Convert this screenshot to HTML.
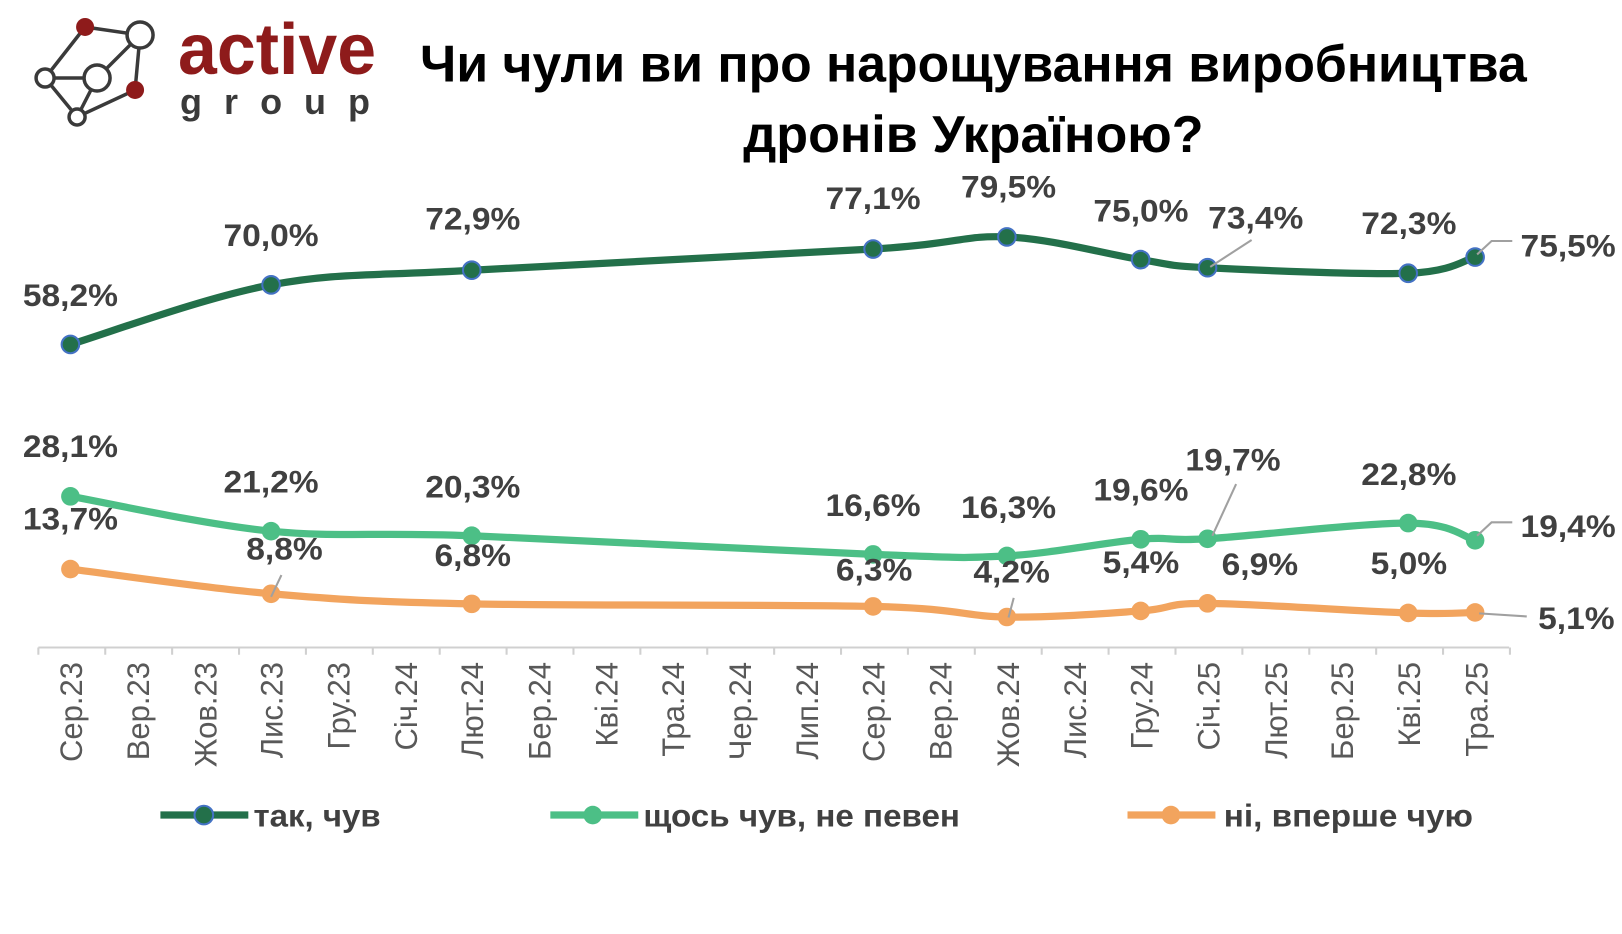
<!DOCTYPE html>
<html><head><meta charset="utf-8"><style>
html,body{margin:0;padding:0;background:#fff;width:1622px;height:934px;overflow:hidden}
svg{display:block}
text{font-family:"Liberation Sans","DejaVu Sans",sans-serif}
.lb{font-size:30px;font-weight:bold;fill:#404040;text-anchor:middle}
.tk{font-size:30px;fill:#595959;text-anchor:end}
.lg{font-size:30px;font-weight:bold;fill:#404040}
</style></head><body>
<svg width="1622" height="934" viewBox="0 0 1568 903" xmlns="http://www.w3.org/2000/svg">
<rect width="1568" height="903" fill="#fff"/>
<g transform="scale(0.9667)">
 <g stroke="#3a3a3a" stroke-width="3.5" fill="none">
  <polyline points="85,27 140,35 135,90 77,117 45,78 85,27"/>
  <line x1="45" y1="78" x2="97" y2="78"/><line x1="97" y1="78" x2="140" y2="35"/><line x1="97" y1="78" x2="77" y2="117"/>
 </g>
 <circle cx="85" cy="27" r="9" fill="#8e1b1b"/>
 <circle cx="135" cy="90" r="9" fill="#8e1b1b"/>
 <g fill="#fff" stroke="#3a3a3a" stroke-width="3.5">
  <circle cx="140" cy="35" r="13"/><circle cx="45" cy="78" r="9"/><circle cx="97" cy="78" r="13"/><circle cx="77" cy="117" r="8"/>
 </g>
 <text x="178" y="74" font-size="72" font-weight="bold" fill="#8e1b1b" textLength="198" lengthAdjust="spacingAndGlyphs">active</text>
 <text x="180" y="114" font-size="36" font-weight="bold" fill="#3a3a3a" textLength="190" lengthAdjust="spacing">group</text>
</g>
<g transform="translate(0,79) scale(1,1.15)">
<text x="941" y="0" font-size="44" font-weight="bold" fill="#000" text-anchor="middle" textLength="1070" lengthAdjust="spacingAndGlyphs">Чи чули ви про нарощування виробництва</text>
</g>
<g transform="translate(0,147) scale(1,1.15)">
<text x="941" y="0" font-size="44" font-weight="bold" fill="#000" text-anchor="middle" textLength="445" lengthAdjust="spacingAndGlyphs">дронів Україною?</text>
</g>
<g id="axis" stroke="#d0d0d0" stroke-width="2"></g>
<g id="series"></g>
<g stroke="#a0a0a0" stroke-width="2" fill="none">
 <polyline points="1170,258 1210,232"/>
 <polyline points="1428,246 1442,233 1462,233"/>
 <polyline points="1172,518 1195,468"/>
 <polyline points="1428,518 1442,505 1462,505"/>
 <polyline points="262,577 272,556"/>
 <polyline points="975,597 980,578"/>
 <polyline points="1430,593 1476,596"/>
</g>
<g>
<text class="lb" x="68" y="296" textLength="92" lengthAdjust="spacingAndGlyphs">58,2%</text>
<text class="lb" x="262" y="238" textLength="92" lengthAdjust="spacingAndGlyphs">70,0%</text>
<text class="lb" x="457" y="222" textLength="92" lengthAdjust="spacingAndGlyphs">72,9%</text>
<text class="lb" x="844" y="202" textLength="92" lengthAdjust="spacingAndGlyphs">77,1%</text>
<text class="lb" x="975" y="191" textLength="92" lengthAdjust="spacingAndGlyphs">79,5%</text>
<text class="lb" x="1103" y="214" textLength="92" lengthAdjust="spacingAndGlyphs">75,0%</text>
<text class="lb" x="1214" y="221" textLength="92" lengthAdjust="spacingAndGlyphs">73,4%</text>
<text class="lb" x="1362" y="226" textLength="92" lengthAdjust="spacingAndGlyphs">72,3%</text>
<text class="lb" x="1516" y="248" textLength="92" lengthAdjust="spacingAndGlyphs">75,5%</text>
<text class="lb" x="68" y="442" textLength="92" lengthAdjust="spacingAndGlyphs">28,1%</text>
<text class="lb" x="262" y="476" textLength="92" lengthAdjust="spacingAndGlyphs">21,2%</text>
<text class="lb" x="457" y="481" textLength="92" lengthAdjust="spacingAndGlyphs">20,3%</text>
<text class="lb" x="844" y="499" textLength="92" lengthAdjust="spacingAndGlyphs">16,6%</text>
<text class="lb" x="975" y="501" textLength="92" lengthAdjust="spacingAndGlyphs">16,3%</text>
<text class="lb" x="1103" y="484" textLength="92" lengthAdjust="spacingAndGlyphs">19,6%</text>
<text class="lb" x="1192" y="455" textLength="92" lengthAdjust="spacingAndGlyphs">19,7%</text>
<text class="lb" x="1362" y="469" textLength="92" lengthAdjust="spacingAndGlyphs">22,8%</text>
<text class="lb" x="1516" y="519" textLength="92" lengthAdjust="spacingAndGlyphs">19,4%</text>
<text class="lb" x="68" y="512" textLength="92" lengthAdjust="spacingAndGlyphs">13,7%</text>
<text class="lb" x="275" y="541" textLength="74" lengthAdjust="spacingAndGlyphs">8,8%</text>
<text class="lb" x="457" y="547" textLength="74" lengthAdjust="spacingAndGlyphs">6,8%</text>
<text class="lb" x="845" y="561" textLength="74" lengthAdjust="spacingAndGlyphs">6,3%</text>
<text class="lb" x="978" y="563" textLength="74" lengthAdjust="spacingAndGlyphs">4,2%</text>
<text class="lb" x="1103" y="554" textLength="74" lengthAdjust="spacingAndGlyphs">5,4%</text>
<text class="lb" x="1218" y="556" textLength="74" lengthAdjust="spacingAndGlyphs">6,9%</text>
<text class="lb" x="1362" y="555" textLength="74" lengthAdjust="spacingAndGlyphs">5,0%</text>
<text class="lb" x="1524" y="608" textLength="74" lengthAdjust="spacingAndGlyphs">5,1%</text>
</g>
<g>
<text class="tk" transform="translate(79,640) rotate(-90)">Сер.23</text>
<text class="tk" transform="translate(144,640) rotate(-90)">Вер.23</text>
<text class="tk" transform="translate(209,640) rotate(-90)">Жов.23</text>
<text class="tk" transform="translate(273,640) rotate(-90)">Лис.23</text>
<text class="tk" transform="translate(338,640) rotate(-90)">Гру.23</text>
<text class="tk" transform="translate(403,640) rotate(-90)">Січ.24</text>
<text class="tk" transform="translate(467,640) rotate(-90)">Лют.24</text>
<text class="tk" transform="translate(532,640) rotate(-90)">Бер.24</text>
<text class="tk" transform="translate(597,640) rotate(-90)">Кві.24</text>
<text class="tk" transform="translate(661,640) rotate(-90)">Тра.24</text>
<text class="tk" transform="translate(726,640) rotate(-90)">Чер.24</text>
<text class="tk" transform="translate(791,640) rotate(-90)">Лип.24</text>
<text class="tk" transform="translate(855,640) rotate(-90)">Сер.24</text>
<text class="tk" transform="translate(920,640) rotate(-90)">Вер.24</text>
<text class="tk" transform="translate(985,640) rotate(-90)">Жов.24</text>
<text class="tk" transform="translate(1050,640) rotate(-90)">Лис.24</text>
<text class="tk" transform="translate(1114,640) rotate(-90)">Гру.24</text>
<text class="tk" transform="translate(1179,640) rotate(-90)">Січ.25</text>
<text class="tk" transform="translate(1244,640) rotate(-90)">Лют.25</text>
<text class="tk" transform="translate(1308,640) rotate(-90)">Бер.25</text>
<text class="tk" transform="translate(1373,640) rotate(-90)">Кві.25</text>
<text class="tk" transform="translate(1438,640) rotate(-90)">Тра.25</text>
</g>
<line x1="155" y1="788" x2="240" y2="788" stroke="#23704a" stroke-width="7"/>
<circle cx="197" cy="788" r="9" fill="#23704a" stroke="#4472c4" stroke-width="2"/>
<text class="lg" x="245" y="799" textLength="123" lengthAdjust="spacingAndGlyphs">так, чув</text>
<line x1="532" y1="788" x2="617" y2="788" stroke="#4cbf86" stroke-width="7"/>
<circle cx="573" cy="788" r="9" fill="#4cbf86"/>
<text class="lg" x="622" y="799" textLength="306" lengthAdjust="spacingAndGlyphs">щось чув, не певен</text>
<line x1="1090" y1="788" x2="1175" y2="788" stroke="#f2a45e" stroke-width="7"/>
<circle cx="1132" cy="788" r="9" fill="#f2a45e"/>
<text class="lg" x="1183" y="799" textLength="241" lengthAdjust="spacingAndGlyphs">ні, вперше чую</text>
</svg>
<script>
(function(){
var NS="http://www.w3.org/2000/svg";
function el(t,a,p){var e=document.createElementNS(NS,t);for(var k in a)e.setAttribute(k,a[k]);p.appendChild(e);return e;}
var ax=document.getElementById('axis');
el('line',{x1:37,y1:626,x2:1459,y2:626},ax);
var s=64.67;
for(var k=0;k<=22;k++){var x=37+k*s;el('line',{x1:x,y1:626,x2:x,y2:633},ax);}
var idx=[0,3,6,12,14,16,17,20,21];
var data=[[58.2,70.0,72.9,77.1,79.5,75.0,73.4,72.3,75.5],[28.1,21.2,20.3,16.6,16.3,19.6,19.7,22.8,19.4],[13.7,8.8,6.8,6.3,4.2,5.4,6.9,5.0,5.1]];
var col=["#23704a","#4cbf86","#f2a45e"];
var g=document.getElementById('series');
function X(i){return 68+i*s;} function Y(v){return 333-(v-58.2)*4.88;}
data.forEach(function(d,si){
 var P=d.map(function(v,j){return [X(idx[j]),Y(v)];});
 var dd="M"+P[0][0]+","+P[0][1];
 for(var i=0;i<P.length-1;i++){
  var p0=P[i-1]||P[i],p1=P[i],p2=P[i+1],p3=P[i+2]||P[i+1];
  var c1=[p1[0]+(p2[0]-p0[0])/6,p1[1]+(p2[1]-p0[1])/6];
  var c2=[p2[0]-(p3[0]-p1[0])/6,p2[1]-(p3[1]-p1[1])/6];
  dd+=" C"+c1+" "+c2+" "+p2;
 }
 el('path',{d:dd,fill:"none",stroke:col[si],"stroke-width":7,"stroke-linecap":"round"},g);
 P.forEach(function(p){el('circle',si==0?{cx:p[0],cy:p[1],r:8.5,fill:col[0],stroke:"#4472c4","stroke-width":2}:{cx:p[0],cy:p[1],r:9,fill:col[si]},g);});
});
})();
</script>
</body></html>
